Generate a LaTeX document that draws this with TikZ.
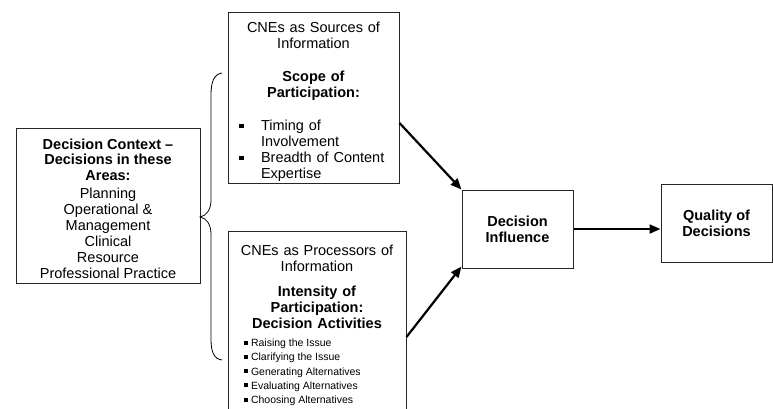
\documentclass[tikz,border=0pt]{standalone}
\usepackage{fontspec}
\setmainfont{Liberation Sans}
\usetikzlibrary{arrows.meta}

% Listenpunkte in den Kaesten
\newcommand{\bigbul}[1]{\makebox[171pt][l]{\hspace{11pt}\raisebox{2.5pt}{\rule{4.5pt}{4.5pt}}\hspace{17.5pt}#1}}
\newcommand{\bigcont}[1]{\makebox[171pt][l]{\hspace{33pt}#1}}
\newcommand{\smallbul}[1]{\makebox[178pt][l]{\hspace{16pt}\raisebox{2pt}{\rule{4pt}{4pt}}\hspace{3pt}{\fontsize{10.5}{14}\selectfont\spaceskip=0pt\relax #1}}}
\newcommand{\topgap}[1]{\rule{0pt}{#1}}

\begin{document}
\begin{tikzpicture}[x=1pt,y=-1pt,
  box/.style={draw=black!85,line width=1pt,inner sep=0pt,align=center,font=\fontsize{14.5}{16}\selectfont},
  pfeil/.style={line width=2.2pt,-{Triangle[length=11pt,width=9pt]}}]
  \useasboundingbox (0,0) rectangle (773,408);
  \clip (0,0) rectangle (773,408);
  % Kontext links
  \node [box,minimum width=184pt,minimum height=155pt] (ctx) at (108,205.5)
    {\topgap{17pt}\textbf{Decision Context –}\\[-0.5pt]\textbf{Decisions in these}\\[-0.5pt]\textbf{Areas:}\\[2pt]Planning\\Operational \&\\Management\\Clinical\\Resource\\Professional Practice};
  % Klammer
  \draw [line width=0.8pt] (222,73) .. controls (214,74) and (211,82) .. (211,95) -- (211,200)
    .. controls (211,210) and (206,216) .. (200,217) .. controls (206,218) and (211,224) .. (211,234)
    -- (211,339) .. controls (211,352) and (214,359) .. (222,360);
  % Quellen und Verarbeiter
  \node [box,text width=171pt,minimum height=171pt] (src) at (313.5,97.5)
    {\topgap{19pt}CNEs as Sources of\\Information\\[17pt]\textbf{Scope of}\\\textbf{Participation:}\\[17pt]\bigbul{Timing of}\\\bigcont{Involvement}\\\bigbul{Breadth of Content}\\\bigcont{Expertise}};
  \node [box,text width=178pt,minimum height=189pt] (proc) at (317,325.5)
    {CNEs as Processors of\\Information\\[9pt]\textbf{Intensity of}\\\textbf{Participation:}\\\textbf{Decision Activities}\\[2pt]\smallbul{Raising the Issue}\\[-1.75pt]\smallbul{Clarifying the Issue}\\[-1.75pt]\smallbul{Generating Alternatives}\\[-1.75pt]\smallbul{Evaluating Alternatives}\\[-1.75pt]\smallbul{Choosing Alternatives}};
  % Einfluss und Qualitaet
  \node [box,font=\fontsize{14.5}{16}\selectfont\bfseries,minimum width=111pt,minimum height=78pt] (inf) at (517.5,229) {Decision\\Influence};
  \node [box,font=\fontsize{14.5}{16}\selectfont\bfseries,minimum width=111pt,minimum height=78pt] (qual) at (716.5,223) {Quality of\\Decisions};
  % Pfeile
  \draw [pfeil] ([yshift=-25.5pt]src.east) -- (inf.north west);
  \draw [pfeil] ([yshift=-11.5pt]proc.east) -- ([yshift=2pt]inf.south west);
  \draw [pfeil] (inf.east) -- (inf.east -| qual.west);
\end{tikzpicture}
\end{document}
